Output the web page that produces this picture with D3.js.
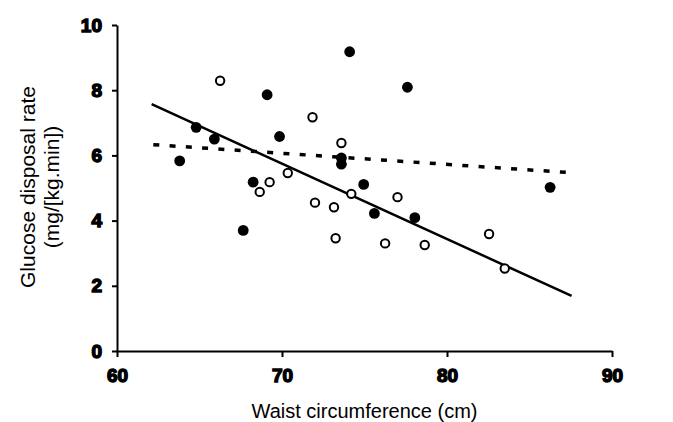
<!DOCTYPE html>
<html>
<head>
<meta charset="utf-8">
<script src="https://cdn.jsdelivr.net/npm/d3@7"></script>
<style>
  html, body { margin: 0; padding: 0; background: #fff; }
  svg { display: block; }
</style>
</head>
<body>
<svg id="chart" width="673" height="422"></svg>
<script>
// ---- data ----
const xTicks = [60, 70, 80, 90];
const yTicks = [0, 2, 4, 6, 8, 10];

// filled circles (waist cm, glucose disposal rate)
const filledX = [63.8, 64.8, 65.9, 67.65, 68.25, 69.1, 69.85, 74.1, 73.6, 73.6, 74.95, 75.6, 77.6, 78.05, 86.25];
const filledY = [5.83, 6.86, 6.50, 3.70, 5.18, 7.86, 6.58, 9.18, 5.92, 5.73, 5.11, 4.22, 8.09, 4.09, 5.02];

// open circles
const openX = [66.25, 68.65, 69.25, 70.35, 71.85, 72.0, 73.15, 73.25, 73.6, 74.2, 76.25, 77.0, 78.65, 82.55, 83.5];
const openY = [8.29, 4.88, 5.18, 5.46, 7.17, 4.55, 4.41, 3.46, 6.38, 4.82, 3.30, 4.72, 3.25, 3.59, 2.53];

// regression lines: end points
const solidLineX = [62.1, 87.55];
const solidLineY = [7.57, 1.69];
const dottedLineX = [62.2, 87.2];
const dottedLineY = [6.33, 5.48];

const xTitle = "Waist circumference (cm)";
const yTitle = ["Glucose disposal rate", "(mg/[kg.min])"];

// ---- drawing ----
const svg = d3.select("#chart");
const x = d3.scaleLinear().domain([60, 90]).range([117, 612]);
const y = d3.scaleLinear().domain([0, 10]).range([351, 25]);

const font = "'Liberation Sans', Arial, sans-serif";

// axes
const xAxis = svg.append("g")
  .attr("transform", `translate(0,${y(0)})`)
  .call(d3.axisBottom(x).tickValues(xTicks).tickSize(6).tickSizeOuter(0).tickPadding(12).tickFormat(d3.format("d")));
const yAxis = svg.append("g")
  .attr("transform", `translate(${x(60)},0)`)
  .call(d3.axisLeft(y).tickValues(yTicks).tickSize(5).tickSizeOuter(0).tickPadding(10).tickFormat(d3.format("d")));

[xAxis, yAxis].forEach(g => {
  g.select(".domain").attr("stroke", "#000").attr("stroke-width", 2);
  g.selectAll(".tick line").attr("stroke", "#000").attr("stroke-width", 2);
  g.selectAll(".tick text")
    .attr("fill", "#000")
    .attr("stroke", "#000")
    .attr("stroke-width", 1.4)
    .style("font-family", font)
    .style("font-weight", "bold")
    .style("font-size", "19px");
});

// axis titles
svg.append("text")
  .attr("x", (x(60) + x(90)) / 2)
  .attr("y", 418)
  .attr("text-anchor", "middle")
  .style("font-family", font)
  .style("font-size", "20px")
  .attr("fill", "#000")
  .text(xTitle);

const yt = svg.append("text")
  .attr("transform", `translate(0,187) rotate(-90)`)
  .attr("text-anchor", "middle")
  .style("font-family", font)
  .style("font-size", "21px")
  .attr("fill", "#000");
yt.append("tspan").attr("x", 0).attr("y", 35).text(yTitle[0]);
yt.append("tspan").attr("x", 0).attr("y", 59).text(yTitle[1]);

// regression lines
const line = d3.line().x(d => x(d[0])).y(d => y(d[1]));
svg.append("path")
  .datum(solidLineX.map((v, i) => [v, solidLineY[i]]))
  .attr("d", line)
  .attr("fill", "none")
  .attr("stroke", "#000")
  .attr("stroke-width", 2.5);
svg.append("path")
  .datum(dottedLineX.map((v, i) => [v, dottedLineY[i]]))
  .attr("d", line)
  .attr("fill", "none")
  .attr("stroke", "#000")
  .attr("stroke-width", 3.5)
  .attr("stroke-dasharray", "6,10.3");

// points
svg.append("g").selectAll("circle")
  .data(openX.map((v, i) => [v, openY[i]]))
  .join("circle")
  .attr("cx", d => x(d[0]))
  .attr("cy", d => y(d[1]))
  .attr("r", 4.2)
  .attr("fill", "#fff")
  .attr("stroke", "#000")
  .attr("stroke-width", 2);

svg.append("g").selectAll("circle")
  .data(filledX.map((v, i) => [v, filledY[i]]))
  .join("circle")
  .attr("cx", d => x(d[0]))
  .attr("cy", d => y(d[1]))
  .attr("r", 5.4)
  .attr("fill", "#000");
</script>
</body>
</html>
